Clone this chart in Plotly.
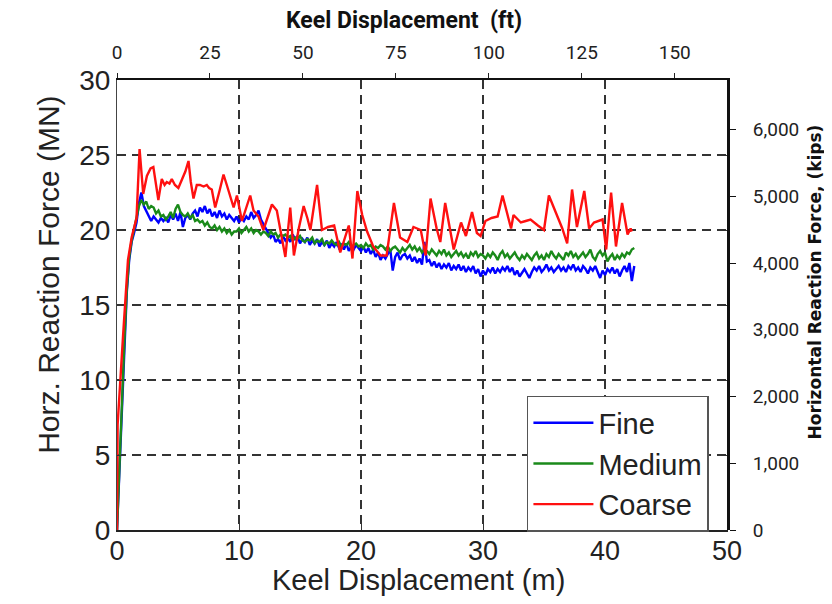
import plotly.graph_objects as go

# ---------------- data ----------------
STEP_M = 0.2  # sampling step of Fine / Medium series (m)

fine_mn = [
    0, 4.0, 8.0, 12.0, 15.8, 18.0, 19.2, 19.8, 20.5, 21.8,
    22.5, 21.6, 21.3, 21.0, 20.6, 20.9, 20.7, 20.5, 20.8, 20.6,
    20.8, 20.5, 21.0, 20.7, 21.1, 20.6, 21.2, 20.2, 20.8, 21.0,
    20.7, 21.1, 21.3, 20.9, 21.5, 21.2, 21.6, 21.1, 21.4, 20.9,
    21.2, 20.8, 21.3, 20.9, 21.1, 20.7, 21.0, 20.8, 20.6, 20.9,
    20.5, 20.8, 20.6, 20.9, 20.7, 21.2, 20.8, 21.0, 21.3, 20.7,
    20.4, 20.0, 19.8, 19.5, 19.7, 19.2, 19.4, 19.1, 19.6, 19.3,
    19.5, 19.2, 19.7, 19.4, 19.6, 19.1, 19.4, 19.2, 19.5, 19.0,
    19.3, 19.1, 19.4, 18.9, 19.2, 19.0, 19.3, 18.8, 19.1, 18.9,
    19.2, 18.8, 19.0, 18.7, 19.1, 18.6, 18.9, 18.7, 19.0, 18.8,
    18.6, 18.9, 18.5, 18.8, 18.4, 18.7, 18.2, 18.5, 18.0, 18.3,
    18.1, 18.4, 18.7, 17.3, 18.2, 18.5, 18.0, 18.3, 18.4, 18.1,
    18.3, 17.9, 18.2, 17.8, 18.1, 17.7, 19.2, 17.9, 18.0, 17.6,
    17.9, 17.5, 17.8, 17.4, 17.7, 17.5, 17.8, 17.3, 17.6, 17.4,
    17.7, 17.3, 17.6, 17.2, 17.5, 17.3, 17.6, 17.1, 17.4, 16.9,
    17.3, 17.0, 17.4, 17.2, 17.5, 17.1, 17.4, 17.2, 17.5, 17.3,
    17.6, 17.2, 17.5, 17.0, 17.3, 16.9, 17.2, 17.4, 17.1, 16.8,
    17.2, 17.5, 17.3, 17.6, 17.2, 17.4, 17.7, 17.3, 17.5, 17.2,
    17.4, 17.6, 17.3, 17.5, 17.2, 17.6, 17.4, 17.7, 17.3, 17.5,
    17.2, 17.6, 17.4, 17.1, 17.5, 17.3, 17.6, 17.2, 16.8, 17.3,
    17.0, 17.4, 17.2, 17.5, 17.1, 17.4, 16.9, 17.3, 17.6, 17.2,
    17.8, 16.6, 17.6,
]

medium_mn = [
    0, 4.5, 8.5, 12.5, 16.0, 18.2, 19.3, 20.0, 20.8, 21.6,
    22.0, 21.7, 21.9, 21.4, 21.6, 21.5, 21.1, 21.3, 20.9, 21.0,
    20.7, 20.9, 21.2, 20.8, 21.4, 21.7, 21.2, 21.0, 20.9, 21.1,
    20.8, 21.0, 20.6, 20.7, 20.5, 20.6, 20.3, 20.5, 20.2, 20.1,
    20.3, 20.0, 20.2, 19.9, 20.1, 19.8, 20.0, 19.7, 19.9, 19.9,
    20.1, 19.8, 20.0, 20.2, 19.9, 20.1, 19.8, 20.0, 19.9, 19.7,
    19.9, 19.8, 19.6, 19.9, 19.7, 19.8, 19.5, 19.7, 19.6, 19.7,
    19.5, 19.6, 19.3, 19.5, 19.4, 19.6, 19.3, 19.2, 19.4, 19.3,
    19.5, 19.1, 19.3, 19.2, 19.4, 19.0, 19.2, 19.1, 19.3, 19.1,
    19.0, 19.2, 18.9, 19.1, 19.0, 19.2, 18.8, 19.0, 19.1, 18.9,
    19.0, 18.8, 19.1, 18.9, 19.0, 18.7, 18.9, 18.8, 19.0, 18.9,
    18.7, 18.9, 18.6, 18.8, 18.9, 18.7, 18.5, 18.8, 18.6, 18.8,
    19.0, 18.7, 18.9, 18.6, 18.8, 18.5, 18.7, 18.6, 18.4, 18.7,
    18.5, 18.3, 18.6, 18.4, 18.7, 18.3, 18.5, 18.2, 18.4, 18.6,
    18.3, 18.5, 18.2, 18.4, 18.1, 18.5, 18.3, 18.6, 18.2, 18.4,
    18.3, 18.1, 18.4, 18.2, 18.5, 18.3, 18.0, 18.4, 18.6, 18.2,
    18.4, 18.1, 18.3, 18.5, 18.2, 18.0, 18.3, 18.1, 18.4, 18.2,
    18.0, 18.3, 18.5, 18.1, 18.3, 18.0, 18.4, 18.2, 18.6, 18.3,
    18.1, 18.4, 18.2, 18.0, 18.5, 18.3, 18.6, 18.2, 18.4, 18.1,
    18.3, 18.5, 18.2, 18.4, 18.7, 18.2, 18.0, 18.4, 18.6, 18.3,
    18.5, 17.9, 18.2, 18.4, 18.0, 18.3, 18.1, 18.4, 18.2, 18.5,
    18.4, 18.7, 18.8,
]

coarse_m = [
    0, 0.05, 0.5, 0.9, 1.2, 1.6, 1.85, 2.15, 2.45, 2.75,
    2.98, 3.2, 3.39, 3.67, 3.9, 4.08, 4.3, 4.49, 4.75, 5.03,
    5.3, 5.6, 5.86, 6.05, 6.27, 6.54, 6.8, 7.1, 7.36, 7.55,
    7.77, 8.05, 8.4, 8.73, 9.0, 9.28, 9.56, 9.83, 10.05, 10.24,
    10.6, 10.92, 11.19, 11.4, 11.6, 12.0, 12.35, 12.7, 13.1, 13.45,
    13.8, 14.2, 14.5, 14.9, 15.3, 15.6, 15.85, 16.4, 16.8, 17.3,
    17.8, 18.3, 19.0, 19.3, 19.7, 20.1, 20.5, 21.0, 21.6, 22.1,
    22.7, 23.2, 23.8, 24.3, 24.9, 25.3, 25.7, 26.2, 26.5, 26.9,
    27.6, 28.2, 28.6, 29.1, 29.5, 29.8, 30.2, 30.7, 31.2, 31.6,
    32.3, 32.5, 33.1, 33.5, 33.9, 34.5, 35.0, 35.4, 35.96, 36.5,
    36.9, 37.3, 37.7, 38.3, 38.7, 39.1, 39.8, 40.1, 40.5, 40.9,
    41.4, 41.85, 42.1, 42.2,
]

coarse_mn = [
    0, 7.0, 13.0, 18.0, 19.5, 20.8, 25.4, 22.4, 23.6, 24.1,
    24.2, 23.0, 22.0, 23.4, 23.0, 23.2, 23.1, 23.4, 23.0, 22.8,
    23.3, 23.9, 24.6, 23.2, 22.1, 23.0, 23.0, 22.9, 23.0, 22.8,
    22.7, 21.5, 22.6, 23.7, 23.0, 22.2, 21.5, 22.3, 21.4, 20.6,
    21.5, 22.3, 21.3, 21.1, 20.9, 20.0, 20.8, 21.7, 21.3, 19.6,
    18.2, 21.5, 18.3, 20.1, 21.6, 20.8, 20.0, 23.0, 20.0, 20.2,
    20.3, 18.5, 20.3, 18.1, 22.6, 21.0, 19.9, 18.9, 18.3, 18.3,
    21.8, 19.5, 19.2, 20.2, 20.0, 18.3, 22.1, 20.1, 19.2, 21.8,
    18.7, 20.5, 19.6, 21.2, 19.8, 19.6, 20.6, 20.8, 20.9, 22.3,
    20.1, 21.0, 20.5, 20.6, 20.7, 20.3, 20.0, 22.3, 21.2, 20.1,
    19.1, 22.7, 20.2, 22.6, 20.1, 20.5, 20.7, 18.7, 22.5, 18.9,
    21.8, 19.7, 20.1, 19.9,
]

series_names = ["Fine", "Medium", "Coarse"]
series_colors = ["#0000ff", "#1a8a1a", "#ff1010"]

x_ticks_m = [0, 10, 20, 30, 40, 50]
y_ticks_mn = [0, 5, 10, 15, 20, 25, 30]
x_ticks_ft = [0, 25, 50, 75, 100, 125, 150]
y_ticks_kips = [0, 1000, 2000, 3000, 4000, 5000, 6000]

FT_PER_M = 1 / 0.3048
KIPS_PER_MN = 1000 / 4.448222

fine_m = [i * STEP_M for i in range(len(fine_mn))]
medium_m = [i * STEP_M for i in range(len(medium_mn))]

# ---------------- figure ----------------
AX_FONT = "Liberation Sans, Arial, Helvetica, sans-serif"
SEC_FONT = "Roboto, Open Sans, sans-serif"
WIDE_FONT = "DejaVu Sans, Verdana, sans-serif"

fig = go.Figure()
for xs, ys, name, color in [
    (fine_m, fine_mn, series_names[0], series_colors[0]),
    (medium_m, medium_mn, series_names[1], series_colors[1]),
    (coarse_m, coarse_mn, series_names[2], series_colors[2]),
]:
    fig.add_trace(go.Scatter(x=xs, y=ys, mode="lines", name=name,
                             line=dict(color=color, width=2.4)))

# invisible trace to carry the secondary axes
fig.add_trace(go.Scatter(x=[0], y=[0], xaxis="x2", yaxis="y2", mode="markers",
                         marker=dict(opacity=0), showlegend=False, hoverinfo="skip"))

grid = dict(showgrid=True, gridcolor="#333333", gridwidth=1.8, griddash="9px,6px")

fig.update_layout(
    width=824, height=596,
    margin=dict(l=109, r=105, t=72, b=74, autoexpand=False),
    paper_bgcolor="white", plot_bgcolor="white",
    showlegend=True,
    xaxis=dict(range=[0, 50], tickvals=x_ticks_m, ticks="inside", ticklen=6,
               tickcolor="#333", showline=True, linecolor="#222", linewidth=1.5,
               mirror=True, zeroline=False, automargin=False, ticklabelstandoff=-4,
               tickfont=dict(family=AX_FONT, size=27, color="#222"),
               **grid),
    yaxis=dict(range=[0, 30], tickvals=y_ticks_mn, ticks="inside", ticklen=6,
               tickcolor="#333", showline=True, linecolor="#444", linewidth=1.2,
               mirror="ticks", zeroline=False, automargin=False,
               tickfont=dict(family=AX_FONT, size=28, color="#222"),
               **grid),
    xaxis2=dict(range=[0, 50 * FT_PER_M], tickvals=x_ticks_ft, overlaying="x",
                side="top", anchor="y", ticks="outside", ticklen=5, tickcolor="#222",
                showgrid=False, zeroline=False, showline=True, linecolor="#111",
                linewidth=2, automargin=False, ticklabelstandoff=6,
                tickfont=dict(family=SEC_FONT, size=19, color="#222")),
    yaxis2=dict(range=[0, 30 * KIPS_PER_MN], tickvals=y_ticks_kips, tickformat=",",
                overlaying="y", side="right", anchor="x", ticks="outside", ticklen=6,
                tickcolor="#111", showgrid=False, zeroline=False, showline=True,
                linecolor="#111", linewidth=3, automargin=False, ticklabelstandoff=13,
                tickfont=dict(family=SEC_FONT, size=19, color="#222")),
    legend=dict(x=0.672, y=0.298, xanchor="left", yanchor="top",
                bgcolor="white", bordercolor="#555", borderwidth=1.5,
                font=dict(family=AX_FONT, size=29, color="#222"),
                itemwidth=60, tracegroupgap=0),
    annotations=[
        dict(text="<b>Keel Displacement  (ft)</b>", xref="paper", yref="paper",
             x=0.47, y=1, yshift=60, xanchor="center", yanchor="middle",
             showarrow=False, font=dict(family=SEC_FONT, size=23, color="#111")),
        dict(text="<b>Horizontal Reaction Force, (kips)</b>", xref="paper", yref="paper",
             x=1, xshift=87, y=0.55, xanchor="center", yanchor="middle", textangle=-90,
             showarrow=False, font=dict(family=WIDE_FONT, size=17, color="#111")),
        dict(text="Keel Displacement (m)", xref="paper", yref="paper",
             x=0.495, y=0, yshift=-50, xanchor="center", yanchor="middle",
             showarrow=False, font=dict(family=AX_FONT, size=29, color="#222")),
        dict(text="Horz. Reaction Force (MN)", xref="paper", yref="paper",
             x=0, xshift=-68, y=0.567, xanchor="center", yanchor="middle", textangle=-90,
             showarrow=False, font=dict(family=AX_FONT, size=30, color="#222")),
    ],
)

fig.write_html("out.html")
